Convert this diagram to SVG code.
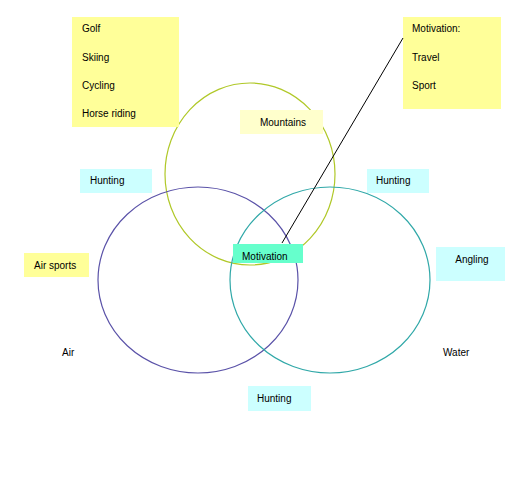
<svg xmlns="http://www.w3.org/2000/svg" width="529" height="493" viewBox="0 0 529 493">
<style>
text{font-family:"Liberation Sans",Arial,sans-serif;font-size:10px;fill:#000;dominant-baseline:central}
.y{fill:#ffff99}
.ly{fill:#ffffcc}
.c{fill:#ccffff}
.g{fill:#66ffcc}
.ring{fill:none;stroke-width:1.2}
</style>
<rect width="529" height="493" fill="#fff"/>
<g id="circles">
<ellipse id="mountains-circle" class="ring" cx="250" cy="174" rx="85" ry="91" stroke="#b0c828"/>
<ellipse id="air-circle" class="ring" cx="198" cy="280" rx="100" ry="93" stroke="#5a52a8"/>
<ellipse id="water-circle" class="ring" cx="330" cy="280" rx="100" ry="93" stroke="#30a8a8"/>
</g>
<g id="activities">
<rect class="y" x="72" y="17" width="107" height="110"/>
<text x="82" y="28">Golf</text>
<text x="82" y="57">Skiing</text>
<text x="82" y="85">Cycling</text>
<text x="82" y="113">Horse riding</text>
</g>
<g id="motivation-list">
<rect class="y" x="403" y="17" width="98" height="92"/>
<text x="412" y="28">Motivation:</text>
<text x="412" y="57">Travel</text>
<text x="412" y="85">Sport</text>
</g>
<g id="mountains">
<rect class="ly" x="240" y="110" width="83" height="24"/>
<text x="283" y="122" text-anchor="middle">Mountains</text>
</g>
<g id="hunting-left">
<rect class="c" x="80" y="169" width="72" height="24"/>
<text x="90" y="180">Hunting</text>
</g>
<g id="hunting-right">
<rect class="c" x="367" y="169" width="62" height="24"/>
<text x="376" y="180">Hunting</text>
</g>
<g id="airsports">
<rect class="y" x="24" y="253" width="65" height="24"/>
<text x="34" y="265">Air sports</text>
</g>
<g id="angling">
<rect class="c" x="436" y="247" width="69" height="34"/>
<text x="472" y="259" text-anchor="middle">Angling</text>
</g>
<g id="hunting-bottom">
<rect class="c" x="248" y="386" width="63" height="25"/>
<text x="257" y="398">Hunting</text>
</g>
<g id="motivation">
<rect class="g" x="233" y="244" width="70" height="19"/>
<text x="242" y="256">Motivation</text>
</g>
<g id="air-label"><text x="62" y="352">Air</text></g>
<g id="water-label"><text x="443" y="352">Water</text></g>
<g id="connectors">
<line x1="282" y1="243" x2="403" y2="38" stroke="#000" stroke-width="1"/>
</g>
</svg>
